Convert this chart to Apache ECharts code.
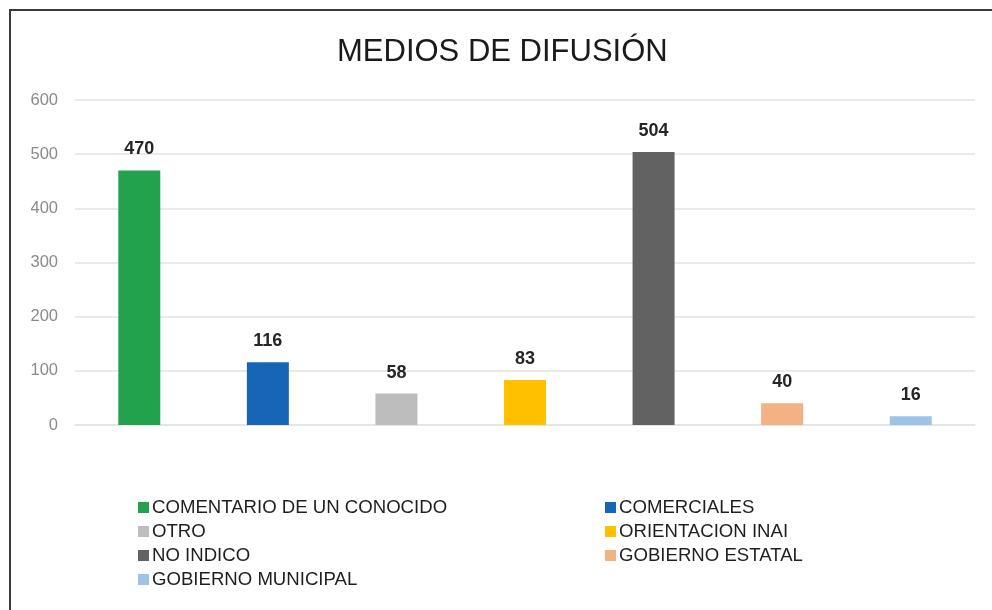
<!DOCTYPE html>
<html>
<head>
<meta charset="utf-8">
<script src="https://cdn.jsdelivr.net/npm/echarts@6/dist/echarts.min.js"></script>
<style>
html,body{margin:0;padding:0;background:#fff;}
#chartBox{width:992px;height:610px;}
</style>
</head>
<body>
<div id="chartBox"></div>
<script>
// datos del grafico
var categorias = ['COMENTARIO DE UN CONOCIDO','COMERCIALES','OTRO','ORIENTACION INAI','NO INDICO','GOBIERNO ESTATAL','GOBIERNO MUNICIPAL'];
var valores = [470, 116, 58, 83, 504, 40, 16];
var colores = ['#23a24d','#1665b6','#bdbdbd','#ffc000','#626262','#f4b183','#9dc3e6'];
var yTicks = [0, 100, 200, 300, 400, 500, 600];

var chartBox = echarts.init(document.getElementById('chartBox'));

// una serie por categoria, apiladas para que queden centradas
var series = [];
for (var i = 0; i < categorias.length; i++) {
	var datos = [];
	for (var j = 0; j < categorias.length; j++) {
		datos.push(j == i ? valores[i] : '-');
	}
	series.push({
		name: categorias[i],
		type: 'bar',
		stack: 'total',
		barWidth: 42,
		itemStyle: { color: colores[i] },
		label: {
			show: true,
			position: 'top',
			distance: 12,
			fontFamily: 'Liberation Sans',
			fontSize: 18,
			fontWeight: 'bold',
			color: '#262626'
		},
		data: datos
	});
}

var legendText = {
	fontFamily: 'Liberation Sans',
	fontSize: 18.6,
	lineHeight: 18,
	color: '#1f1f1f',
	padding: [0, 0, 0, -2]
};

var option = {
	animation: false,
	title: {
		text: 'MEDIOS DE DIFUSIÓN',
		left: 337,
		top: 37,
		padding: 0,
		textStyle: {
			fontFamily: 'Liberation Sans',
			fontSize: 31,
			fontWeight: 'normal',
			color: '#1a1a1a'
		}
	},
	legend: [{
		orient: 'vertical',
		left: 138,
		top: 498,
		padding: 0,
		itemWidth: 11,
		itemHeight: 11,
		itemGap: 5,
		icon: 'rect',
		textStyle: legendText,
		data: [categorias[0], categorias[2], categorias[4], categorias[6]]
	}, {
		orient: 'vertical',
		left: 605,
		top: 498,
		padding: 0,
		itemWidth: 11,
		itemHeight: 11,
		itemGap: 5,
		icon: 'rect',
		textStyle: legendText,
		data: [categorias[1], categorias[3], categorias[5]]
	}],
	grid: {
		left: 75,
		right: 17,
		top: 100,
		bottom: 185
	},
	xAxis: {
		type: 'category',
		data: categorias,
		axisLine: { lineStyle: { color: '#e3e3e3', width: 1.5 } },
		axisTick: { show: false },
		axisLabel: { show: false }
	},
	yAxis: {
		type: 'value',
		min: yTicks[0],
		max: yTicks[yTicks.length - 1],
		interval: 100,
		axisLine: { show: false },
		axisTick: { show: false },
		axisLabel: {
			margin: 17,
			fontFamily: 'Liberation Sans',
			fontSize: 16.5,
			color: '#8a8a8a'
		},
		splitLine: { lineStyle: { color: '#e3e3e3', width: 1.5 } }
	},
	graphic: [{
		type: 'rect',
		shape: { x: 10, y: 10, width: 1000, height: 700 },
		style: { fill: 'none', stroke: '#3a3a3a', lineWidth: 2 },
		silent: true
	}],
	series: series
};
chartBox.setOption(option);
</script>
</body>
</html>
